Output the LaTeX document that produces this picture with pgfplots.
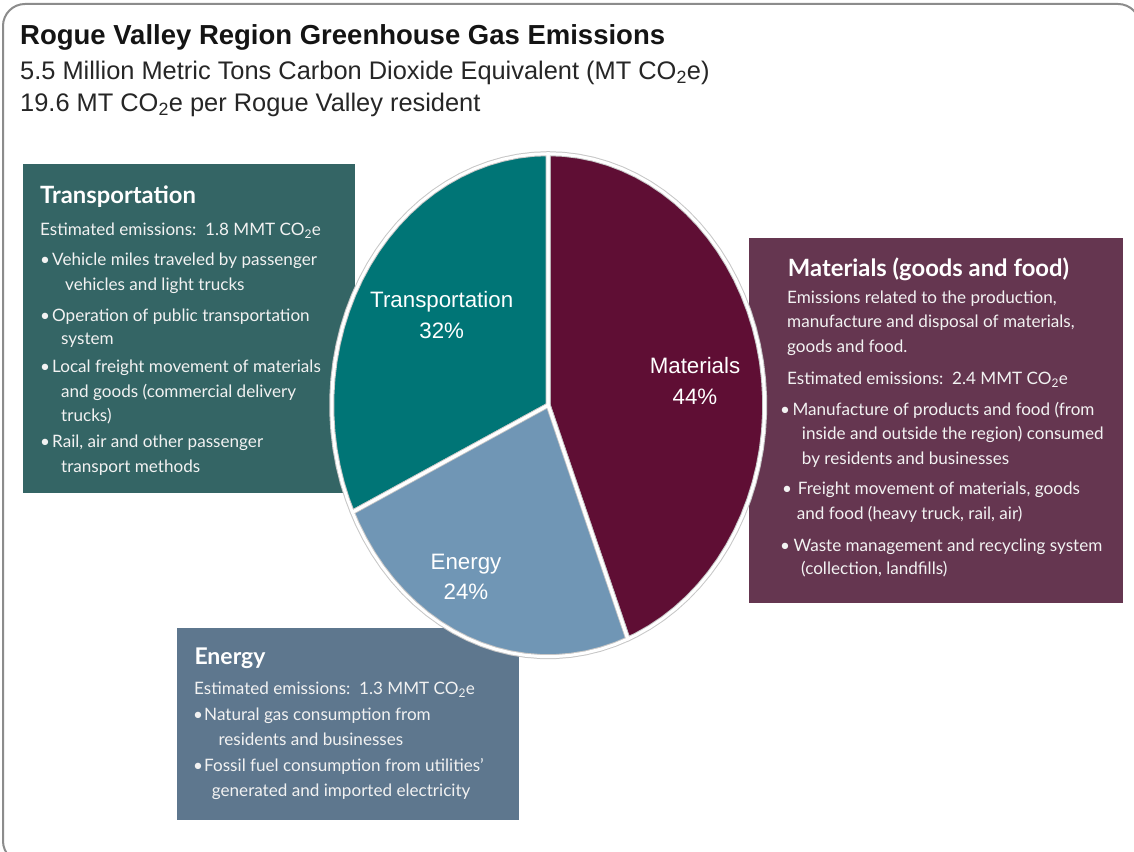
\documentclass[border=0pt]{standalone}
\usepackage{pgfplots}
\pgfplotsset{compat=1.18}
\usepgfplotslibrary{polar}
\usepackage{pgfplotstable}
\usepackage{fontspec}
\setmainfont{Liberation Sans}
\newfontfamily\gill{Lato}

\definecolor{pieTrans}{RGB}{0,117,118}
\definecolor{pieMat}{RGB}{95,14,52}
\definecolor{pieEnergy}{RGB}{112,150,181}
\definecolor{boxTrans}{RGB}{52,101,101}
\definecolor{boxMat}{RGB}{101,54,80}
\definecolor{boxEnergy}{RGB}{94,119,142}
\definecolor{frameGray}{RGB}{140,140,140}
\definecolor{boxText}{RGB}{242,242,242}

% slices: angle (deg), radius
\pgfplotstableread[row sep=\\]{a r\\ 0 0\\ 90 1\\ 86 1\\ 82 1\\ 78 1\\ 74 1\\ 70 1\\ 66 1\\ 62 1\\ 58 1\\ 54 1\\ 50 1\\ 46 1\\ 42 1\\ 38 1\\ 34 1\\ 30 1\\ 26 1\\ 22 1\\ 18 1\\ 14 1\\ 10 1\\ 6 1\\ 2 1\\ -2 1\\ -6 1\\ -10 1\\ -14 1\\ -18 1\\ -22 1\\ -26 1\\ -30 1\\ -34 1\\ -38 1\\ -42 1\\ -46 1\\ -50 1\\ -54 1\\ -58 1\\ -62 1\\ -66 1\\ -68.4 1\\}\matTable
\pgfplotstableread[row sep=\\]{a r\\ 0 0\\ 90 1\\ 94 1\\ 98 1\\ 102 1\\ 106 1\\ 110 1\\ 114 1\\ 118 1\\ 122 1\\ 126 1\\ 130 1\\ 134 1\\ 138 1\\ 142 1\\ 146 1\\ 150 1\\ 154 1\\ 158 1\\ 162 1\\ 166 1\\ 170 1\\ 174 1\\ 178 1\\ 182 1\\ 186 1\\ 190 1\\ 194 1\\ 198 1\\ 202 1\\ 205.2 1\\}\traTable
\pgfplotstableread[row sep=\\]{a r\\ 0 0\\ 205.2 1\\ 208 1\\ 212 1\\ 216 1\\ 220 1\\ 224 1\\ 228 1\\ 232 1\\ 236 1\\ 240 1\\ 244 1\\ 248 1\\ 252 1\\ 256 1\\ 260 1\\ 264 1\\ 268 1\\ 272 1\\ 276 1\\ 280 1\\ 284 1\\ 288 1\\ 291.6 1\\}\eneTable

\begin{document}
\begin{tikzpicture}
\begin{scope}[x=1pt,y=1pt]
\fill[white] (0,0) rectangle (1134,851);

% titles
\node[anchor=base west, inner sep=0, text=black!92, font=\fontsize{27.5}{30}\selectfont\bfseries] at (20,806.5) {Rogue Valley Region Greenhouse Gas Emissions};
\node[anchor=base west, inner sep=0, text=black!85, font=\fontsize{25.4}{28}\selectfont] at (20,771.5) {5.5 Million Metric Tons Carbon Dioxide Equivalent (MT CO\textsubscript{2}e)};
\node[anchor=base west, inner sep=0, text=black!85, font=\fontsize{25.4}{28}\selectfont] at (20,739.5) {19.6 MT CO\textsubscript{2}e per Rogue Valley resident};

% boxes
\fill[boxTrans] (23,358) rectangle (355,687);
\fill[boxMat] (749,248) rectangle (1123,613);
\fill[boxEnergy] (177,31) rectangle (519,223);

\begin{scope}[every node/.style={anchor=base west, inner sep=0, text=boxText, font=\gill\fontsize{17.1}{20}\selectfont}]
% Transportation
\node[text=white, font=\gill\bfseries\fontsize{23.8}{26}\selectfont] at (40,647) {Transportation};
\node at (40,615) {Estimated emissions:\ \ 1.8 MMT CO\textsubscript{2}e};
\node at (40,585) {•}; \node at (52,585) {Vehicle miles traveled by passenger};
\node at (65,560.3) {vehicles and light trucks};
\node at (40,529.3) {•}; \node at (52,529.3) {Operation of public transportation};
\node at (61,506) {system};
\node at (40,478) {•}; \node at (52,478) {Local freight movement of materials};
\node at (61,453) {and goods (commercial delivery};
\node at (61,429.3) {trucks)};
\node at (40,403) {•}; \node at (52,403) {Rail, air and other passenger};
\node at (61,378) {transport methods};
% Materials
\node[text=white, font=\gill\bfseries\fontsize{23.8}{26}\selectfont] at (787.7,574.3) {Materials (goods and food)};
\node at (787,547.7) {Emissions related to the production,};
\node at (787,523.3) {manufacture and disposal of materials,};
\node at (787,498) {goods and food.};
\node at (787,466) {Estimated emissions:\ \ 2.4 MMT CO\textsubscript{2}e};
\node at (780,435.3) {•}; \node at (792.3,435.3) {Manufacture of products and food (from};
\node at (801.7,411) {inside and outside the region) consumed};
\node at (801.7,386) {by residents and businesses};
\node at (782,356) {•}; \node at (797.7,356) {Freight movement of materials, goods};
\node at (796.7,331) {and food (heavy truck, rail, air)};
\node at (780,299.3) {•}; \node at (793.3,299.3) {Waste management and recycling system};
\node at (801,276) {(collection, landfills)};
% Energy
\node[text=white, font=\gill\bfseries\fontsize{23}{26}\selectfont] at (194.3,186) {Energy};
\node at (194,156) {Estimated emissions:\ \ 1.3 MMT CO\textsubscript{2}e};
\node at (193,131) {•}; \node at (204,131) {Natural gas consumption from};
\node at (218.3,106) {residents and businesses};
\node at (193,79.3) {•}; \node at (204,79.3) {Fossil fuel consumption from utilities’};
\node at (211.7,54.3) {generated and imported electricity};
\end{scope}
\end{scope}

% pie
\begin{axis}[at={(331.7pt,194.3pt)}, anchor=south west, width=433pt, height=503pt,
  scale only axis, hide axis, xmin=-1, xmax=1, ymin=-1, ymax=1, clip=false]
\addplot[data cs=polar, fill=pieMat, draw=black!22, line width=5pt, line join=round] table[x=a,y=r] {\matTable} -- cycle;
\addplot[data cs=polar, fill=pieTrans, draw=black!22, line width=5pt, line join=round] table[x=a,y=r] {\traTable} -- cycle;
\addplot[data cs=polar, fill=pieEnergy, draw=black!22, line width=5pt, line join=round] table[x=a,y=r] {\eneTable} -- cycle;
\addplot[data cs=polar, draw=white, line width=3pt, line join=round] table[x=a,y=r] {\matTable} -- cycle;
\addplot[data cs=polar, draw=white, line width=3pt, line join=round] table[x=a,y=r] {\traTable} -- cycle;
\addplot[data cs=polar, draw=white, line width=3pt, line join=round] table[x=a,y=r] {\eneTable} -- cycle;
\end{axis}

% pie labels
\begin{scope}[x=1pt,y=1pt,every node/.style={anchor=base, inner sep=0, text=white, font=\fontsize{22.3}{26}\selectfont}]
\node at (441.7,543) {Transportation};
\node at (441.7,512) {32\%};
\node at (695,477.7) {Materials};
\node at (695,446) {44\%};
\node at (466,281) {Energy};
\node at (466,251) {24\%};
\end{scope}

\pgfresetboundingbox
\path[use as bounding box] (0pt,0pt) rectangle (1134pt,851pt);
\begin{scope}[x=1pt,y=1pt]
\clip (0,0) rectangle (1134,851);
\draw[frameGray, line width=2pt, rounded corners=22pt] (3,-12) rectangle (1140,847);
\end{scope}
\end{tikzpicture}
\end{document}
